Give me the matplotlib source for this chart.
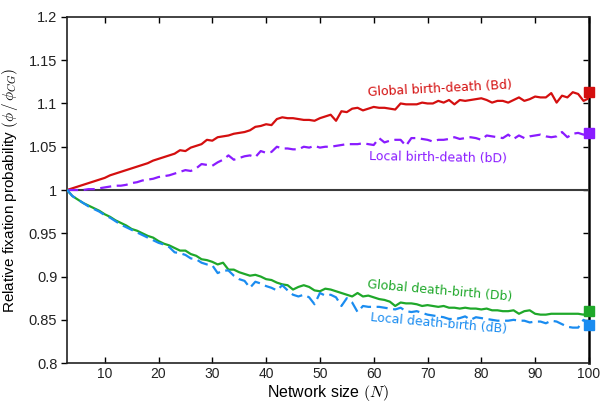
import numpy as np
import matplotlib
matplotlib.use("Agg")
import matplotlib.pyplot as plt

N = list(range(3, 101))

global_bd = [1.000, 1.002, 1.004, 1.006, 1.008, 1.010, 1.012, 1.014, 1.017, 1.019,
             1.021, 1.023, 1.025, 1.027, 1.029, 1.031, 1.034, 1.036, 1.038, 1.040,
             1.042, 1.046, 1.045, 1.049, 1.051, 1.053, 1.058, 1.057, 1.061, 1.062,
             1.063, 1.065, 1.066, 1.067, 1.069, 1.073, 1.074, 1.076, 1.075, 1.082,
             1.084, 1.083, 1.083, 1.082, 1.081, 1.081, 1.080, 1.083, 1.085, 1.087,
             1.080, 1.091, 1.090, 1.094, 1.095, 1.092, 1.094, 1.096, 1.095, 1.095,
             1.094, 1.093, 1.100, 1.099, 1.099, 1.099, 1.101, 1.100, 1.100, 1.103,
             1.101, 1.104, 1.099, 1.104, 1.103, 1.104, 1.105, 1.106, 1.104, 1.101,
             1.103, 1.103, 1.101, 1.104, 1.107, 1.103, 1.105, 1.108, 1.107, 1.107,
             1.112, 1.101, 1.109, 1.107, 1.113, 1.111, 1.103, 1.106]

local_bD = [1.000, 1.000, 1.000, 1.000, 1.001, 1.001, 1.002, 1.003, 1.004, 1.005,
            1.005, 1.006, 1.008, 1.009, 1.011, 1.012, 1.013, 1.015, 1.016, 1.017,
            1.019, 1.021, 1.023, 1.022, 1.025, 1.030, 1.029, 1.028, 1.032, 1.035,
            1.040, 1.035, 1.037, 1.039, 1.040, 1.038, 1.045, 1.043, 1.044, 1.050,
            1.048, 1.048, 1.047, 1.047, 1.050, 1.049, 1.051, 1.049, 1.050, 1.050,
            1.051, 1.052, 1.053, 1.053, 1.053, 1.054, 1.053, 1.052, 1.060, 1.055,
            1.057, 1.058, 1.058, 1.051, 1.060, 1.060, 1.059, 1.058, 1.056, 1.058,
            1.058, 1.059, 1.061, 1.059, 1.060, 1.061, 1.060, 1.058, 1.063, 1.062,
            1.061, 1.060, 1.064, 1.059, 1.063, 1.060, 1.062, 1.063, 1.064, 1.062,
            1.061, 1.062, 1.067, 1.061, 1.065, 1.066, 1.064, 1.066]

global_Db = [1.000, 0.993, 0.989, 0.985, 0.982, 0.979, 0.976, 0.972, 0.969, 0.965,
             0.962, 0.959, 0.955, 0.953, 0.950, 0.947, 0.945, 0.941, 0.938, 0.936,
             0.933, 0.930, 0.930, 0.926, 0.924, 0.920, 0.919, 0.917, 0.914, 0.916,
             0.908, 0.908, 0.905, 0.903, 0.901, 0.902, 0.900, 0.897, 0.896, 0.893,
             0.891, 0.890, 0.885, 0.888, 0.890, 0.888, 0.884, 0.883, 0.886, 0.885,
             0.883, 0.881, 0.879, 0.877, 0.881, 0.877, 0.878, 0.876, 0.874, 0.873,
             0.871, 0.866, 0.870, 0.869, 0.869, 0.868, 0.866, 0.867, 0.866, 0.865,
             0.866, 0.864, 0.864, 0.863, 0.864, 0.863, 0.863, 0.862, 0.863, 0.861,
             0.861, 0.860, 0.860, 0.861, 0.857, 0.860, 0.861, 0.857, 0.856, 0.856,
             0.857, 0.857, 0.857, 0.857, 0.857, 0.857, 0.856, 0.859]

local_dB = [1.000, 0.993, 0.989, 0.985, 0.981, 0.978, 0.975, 0.971, 0.968, 0.964,
            0.960, 0.957, 0.954, 0.951, 0.948, 0.945, 0.942, 0.939, 0.937, 0.934,
            0.928, 0.927, 0.925, 0.921, 0.920, 0.916, 0.914, 0.913, 0.904, 0.907,
            0.907, 0.901, 0.897, 0.895, 0.887, 0.894, 0.892, 0.889, 0.887, 0.884,
            0.890, 0.884, 0.879, 0.877, 0.879, 0.876, 0.868, 0.881, 0.878, 0.879,
            0.876, 0.866, 0.875, 0.870, 0.859, 0.866, 0.865, 0.865, 0.865, 0.864,
            0.863, 0.862, 0.864, 0.860, 0.859, 0.860, 0.858, 0.856, 0.855, 0.854,
            0.853, 0.851, 0.851, 0.852, 0.854, 0.850, 0.853, 0.852, 0.851, 0.850,
            0.849, 0.849, 0.849, 0.850, 0.849, 0.849, 0.847, 0.848, 0.848, 0.846,
            0.849, 0.848, 0.845, 0.842, 0.841, 0.841, 0.850, 0.846]

end_N = 100
end_values = [1.113, 1.066, 0.860, 0.844]

labels = ["Global birth-death (Bd)", "Local birth-death (bD)",
          "Global death-birth (Db)", "Local death-birth (dB)"]

colors = ["#d40f0f", "#8a1cff", "#1fa82a", "#1a8cf0"]

plt.rcParams['mathtext.fontset'] = 'cm'

fig = plt.figure(figsize=(6.04, 4.03), dpi=100)
ax = fig.add_axes([0.111, 0.099, 0.864, 0.859])

ax.axhline(1.0, color="#3a3a3a", lw=1.5, zorder=1)

series = [global_bd, local_bD, global_Db, local_dB]
styles = ["-", "--", "-", "--"]
for s, c, ls in zip(series, colors, styles):
    line, = ax.plot(N, s, color=c, lw=1.6, ls=ls, zorder=3)
    if ls == "--":
        line.set_dashes((5, 2.5))

for v, c in zip(end_values, colors):
    ax.plot([end_N], [v], marker="s", ms=7, color=c, clip_on=False, zorder=5)

ax.set_xlim(3, 100)
ax.set_ylim(0.8, 1.2)
ax.set_xticks([10, 20, 30, 40, 50, 60, 70, 80, 90, 100])
ax.set_yticks([0.8, 0.85, 0.9, 0.95, 1.0, 1.05, 1.1, 1.15, 1.2])
ax.set_yticklabels(["0.8", "0.85", "0.9", "0.95", "1", "1.05", "1.1", "1.15", "1.2"])

tickfont = "Liberation Sans"
for lab in ax.get_yticklabels():
    lab.set_fontfamily(tickfont)
    lab.set_fontsize(10.5)
    lab.set_color("#222222")
for lab in ax.get_xticklabels():
    lab.set_fontfamily(tickfont)
    lab.set_fontsize(10)
    lab.set_color("#222222")

ax.tick_params(axis="x", direction="in", top=True, length=4, width=1, pad=3)
ax.tick_params(axis="y", direction="out", right=False, length=4, width=1, pad=3)

sec = ax.secondary_yaxis("right")
sec.set_yticks([0.85, 0.9, 0.95, 1.0, 1.05, 1.1, 1.15])
sec.tick_params(direction="in", length=4, width=1, labelright=False)
sec.spines["right"].set_linewidth(2)
sec.spines["right"].set_color("#333333")

for sp in ["left", "bottom", "top"]:
    ax.spines[sp].set_linewidth(1.2)
    ax.spines[sp].set_color("#222222")

ax.set_xlabel(r"Network size $(N)$", fontsize=11.5, family=tickfont, labelpad=1)
ax.set_ylabel(r"Relative fixation probability $(\phi\,/\,\phi_{CG})$", fontsize=11,
              family=tickfont, labelpad=6)

ann_font = "DejaVu Sans"
ax.text(72.3, 1.1165, labels[0], color=colors[0], fontsize=9, family=ann_font,
        ha="center", va="center", rotation=3)
ax.text(72.0, 1.0375, labels[1], color=colors[1], fontsize=9, family=ann_font,
        ha="center", va="center", rotation=-1)
ax.text(72.3, 0.8835, labels[2], color=colors[2], fontsize=9, family=ann_font,
        ha="center", va="center", rotation=-5)
ax.text(72.0, 0.8455, labels[3], color=colors[3], fontsize=9, family=ann_font,
        ha="center", va="center", rotation=-5)

fig.savefig("out.png", dpi=100)
